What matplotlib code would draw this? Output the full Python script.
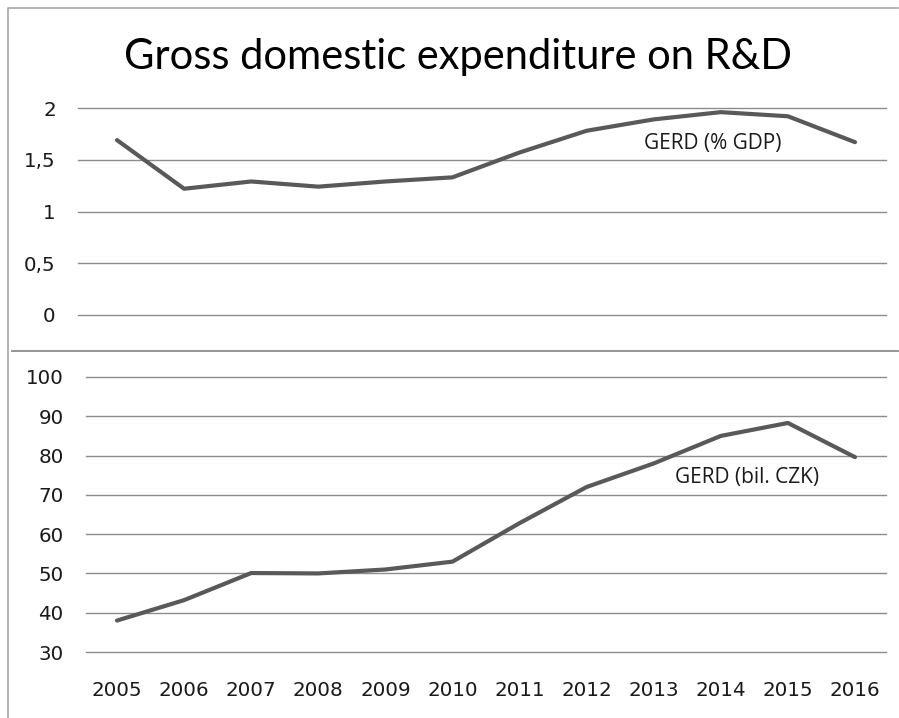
import matplotlib.pyplot as plt
from matplotlib.ticker import FuncFormatter

years = [2005, 2006, 2007, 2008, 2009, 2010, 2011, 2012, 2013, 2014, 2015, 2016]
gerd_gdp = [1.69, 1.22, 1.29, 1.24, 1.29, 1.33, 1.57, 1.78, 1.89, 1.96, 1.92, 1.67]
gerd_czk = [38.0, 43.2, 50.1, 50.0, 51.0, 53.0, 62.8, 72.0, 78.0, 85.0, 88.3, 79.6]
gdp_ticks = [0, 0.5, 1, 1.5, 2]
czk_ticks = [30, 40, 50, 60, 70, 80, 90, 100]

W, H = 899, 718
line_col = '#595959'
grid_col = '#8c8c8c'
tick_font = 'DejaVu Sans'
text_font = 'Open Sans'

fig = plt.figure(figsize=(W / 100, H / 100), dpi=100)


def px_axes(x0, x1, ytop, ybot):
    return fig.add_axes([x0 / W, 1 - ybot / H, (x1 - x0) / W, (ybot - ytop) / H])


# background axes in pixel units for the chart border and the divider
bg = fig.add_axes([0, 0, 1, 1], zorder=-1)
bg.set_xlim(0, W)
bg.set_ylim(H, 0)
bg.axis('off')
bg.plot([8, 8, W - 1], [H, 8, 8], color='#a6a6a6', linewidth=1.2)
bg.plot([12, W - 1], [351, 351], color='#8c8c8c', linewidth=1.3)

step = 67.09
# top panel
ax1 = px_axes(78, 886, 108, 315)
ax1.plot(years, gerd_gdp, color=line_col, linewidth=3.0, solid_capstyle='round', clip_on=False)
ax1.set_xlim(2005 - 39 / step, 2016 + 31 / step)
ax1.set_ylim(0, 2)
ax1.set_yticks(gdp_ticks)
ax1.yaxis.set_major_formatter(FuncFormatter(lambda v, p: ('%g' % v).replace('.', ',')))
ax1.set_xticks([])

# bottom panel
ax2 = px_axes(86, 886, 377, 652)
ax2.plot(years, gerd_czk, color=line_col, linewidth=3.0, solid_capstyle='round', clip_on=False)
ax2.set_xlim(2005 - 31 / step, 2016 + 31 / step)
ax2.set_ylim(30, 100)
ax2.set_yticks(czk_ticks)
ax2.set_xticks(years)

for ax in (ax1, ax2):
    ax.patch.set_visible(False)
    for s in ax.spines.values():
        s.set_visible(False)
    ax.grid(axis='y', color=grid_col, linewidth=1.0)
    for g in ax.get_ygridlines():
        g.set_clip_on(False)
    ax.set_axisbelow(True)
    ax.tick_params(axis='y', length=0, pad=16, labelsize=14.3, labelcolor='#1a1a1a')
    ax.tick_params(axis='x', length=0, pad=21, labelsize=14.3, labelcolor='#1a1a1a')
    for lab in ax.get_xticklabels() + ax.get_yticklabels():
        lab.set_fontfamily(tick_font)

fig.text(713 / W, 1 - 144 / H, 'GERD (% GDP)', ha='center', va='center',
         fontsize=15, family=text_font, color='#1a1a1a')
fig.text(747 / W, 1 - 478 / H, 'GERD (bil. CZK)', ha='center', va='center',
         fontsize=15, family=text_font, color='#1a1a1a')
fig.text(458 / W, 1 - 57 / H, 'Gross domestic expenditure on R&D', ha='center', va='center',
         fontsize=30, family='Lato', color='black')

fig.savefig('out.png', dpi=100)
